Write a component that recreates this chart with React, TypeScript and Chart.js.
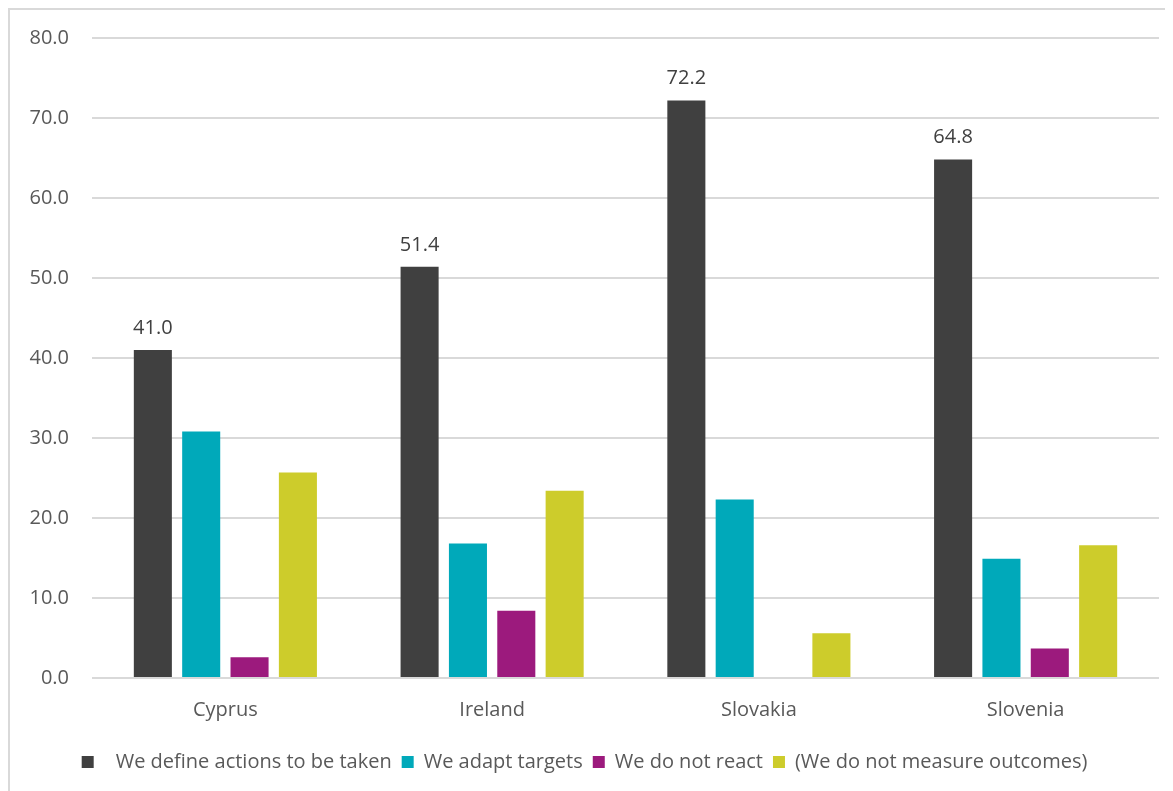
import React, { useEffect, useRef } from "react";
import { Chart, registerables } from "chart.js";

Chart.register(...registerables);

const categories = ["Cyprus", "Ireland", "Slovakia", "Slovenia"];
const seriesNames = [
  "\uF0A7We define actions to be taken",
  "We adapt targets",
  "We do not react",
  "(We do not measure outcomes)",
];
const defineActions = [41.0, 51.4, 72.2, 64.8];
const adaptTargets = [30.8, 16.8, 22.3, 14.9];
const doNotReact = [2.6, 8.4, 0, 3.7];
const doNotMeasure = [25.7, 23.4, 5.6, 16.6];
const colors = ["#404040", "#00A9BA", "#9C1A7D", "#CDCC2B"];

const FONT = "'Open Sans', 'Liberation Sans', sans-serif";
const TEXT = "#595959";

const labelPlugin = {
  id: "firstSeriesLabels",
  afterDatasetsDraw(chart: any) {
    const ctx = chart.ctx;
    const meta = chart.getDatasetMeta(0);
    ctx.save();
    ctx.font = `20px ${FONT}`;
    ctx.fillStyle = "#404040";
    ctx.textAlign = "center";
    ctx.textBaseline = "bottom";
    meta.data.forEach((bar: any, i: number) => {
      ctx.fillText(defineActions[i].toFixed(1), bar.x, bar.y - 12);
    });
    ctx.restore();
  },
};

export default function App() {
  const ref = useRef<HTMLCanvasElement>(null);
  useEffect(() => {
    if (!ref.current) return;
    const values = [defineActions, adaptTargets, doNotReact, doNotMeasure];
    const chart = new Chart(ref.current, {
      type: "bar",
      data: {
        labels: categories,
        datasets: seriesNames.map((n, i) => ({
          label: n,
          data: values[i],
          backgroundColor: colors[i],
          borderWidth: 0,
          categoryPercentage: 0.725,
          barPercentage: 0.787,
        })),
      },
      options: {
        animation: false,
        responsive: false,
        maintainAspectRatio: false,
        layout: { padding: { top: 28, right: 16, left: 0, bottom: 8 } },
        plugins: {
          tooltip: { enabled: false },
          legend: {
            position: "bottom",
            labels: {
              font: { family: FONT, size: 20 },
              color: TEXT,
              boxWidth: 12,
              boxHeight: 12,
              padding: 10,
            },
          },
        },
        scales: {
          x: {
            grid: { display: false, drawTicks: false },
            border: { display: false },
            ticks: { font: { family: FONT, size: 20 }, color: TEXT, padding: 20 },
          },
          y: {
            min: 0,
            max: 80,
            afterFit: (s: any) => {
              s.width = 82;
              s.paddingTop = 0;
              s.paddingBottom = 0;
            },
            grid: { color: "#D9D9D9", lineWidth: 2, drawTicks: false },
            border: { display: false },
            ticks: {
              stepSize: 10,
              font: { family: FONT, size: 20 },
              color: TEXT,
              padding: 23,
              callback: (v: any) => Number(v).toFixed(1),
            },
          },
        },
      },
      plugins: [labelPlugin],
    });
    return () => chart.destroy();
  }, []);
  return (
    <div
      style={{
        width: 1180,
        height: 800,
        borderLeft: "2px solid #D9D9D9",
        borderTop: "2px solid #D9D9D9",
        boxSizing: "border-box",
        background: "#fff",
      }}
    >
      <canvas ref={ref} width={1165} height={780} style={{ display: "block" }} />
    </div>
  );
}
